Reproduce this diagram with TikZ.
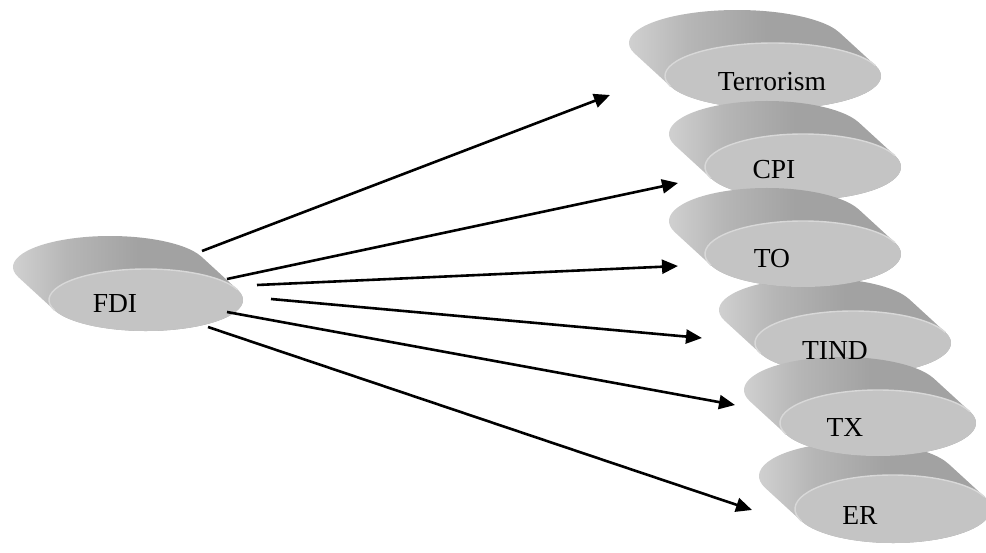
\documentclass[tikz,border=0pt]{standalone}
\usepackage{fontspec}
\setmainfont{Liberation Serif}
\usetikzlibrary{arrows.meta}

\definecolor{sidel}{HTML}{D6D6D6}
\definecolor{sidem}{HTML}{B6B6B6}
\definecolor{sided}{HTML}{A2A2A2}
\definecolor{sider}{HTML}{BABABA}
\definecolor{faceg}{HTML}{C4C4C4}
\definecolor{rimg}{HTML}{D8D8D8}

% light on the left, darker towards the right, lighter again at the tip
\pgfdeclarehorizontalshading{discside}{100bp}{color(0bp)=(sidel); color(25bp)=(sidel);
  color(38bp)=(sidem); color(52bp)=(sided); color(68bp)=(sided); color(75bp)=(sider); color(100bp)=(sider)}

\tikzset{
  arrowline/.style={line width=2.6pt, -{Triangle[length=16pt,width=14pt]}},
  disclabel/.style={font=\fontsize{27.5}{32}\selectfont, anchor=base, inner sep=0pt},
  discface/.style={fill=faceg},
  discrim/.style={draw=rimg, line width=1.4pt},
}

% extrusion vector from the front face to the back face
\def\discdx{-36}
\def\discdy{-33}

% \discshape{cx}{cy}{rx}{ry}: extruded ellipse, front face centred at (cx,cy)
\newcommand\discshape[4]{%
  \pgfmathsetmacro\disct{atan(-(#4)*(\discdx)/((#3)*(\discdy)))}%
  \shade[shading=discside] (#1,#2) ++(\disct:#3 and #4) -- ++(\discdx,\discdy)
    arc[start angle=\disct, end angle=\disct-180, x radius=#3, y radius=#4]
    -- ++(-\discdx,-\discdy)
    arc[start angle=\disct-180, end angle=\disct-360, x radius=#3, y radius=#4] -- cycle;
  \fill[discface] (#1,#2) ellipse[x radius=#3, y radius=#4];
  \draw[discrim] (#1,#2) ++(\disct-180:#3 and #4)
    arc[start angle=\disct-180, end angle=\disct, x radius=#3, y radius=#4];
}

\begin{document}
\begin{tikzpicture}[x=1pt,y=1pt,yscale=-1]
  \useasboundingbox (0,0) rectangle (986,552);

  % discs
  \discshape{146}{300}{97}{31}
  \discshape{773}{76}{108}{33}
  \discshape{803}{167}{98}{33}
  \discshape{853}{343}{98}{32}
  \discshape{893}{509}{98}{34}
  \discshape{803}{254}{98}{33}
  \discshape{878}{423}{98}{33}

  % labels
  \node[disclabel] (fdi)  at (115,312) {FDI};
  \node[disclabel] (terr) at (772,90)  {Terrorism};
  \node[disclabel] (cpi)  at (774,178) {CPI};
  \node[disclabel] (to)   at (772,267) {TO};
  \node[disclabel] (tind) at (835,359) {TIND};
  \node[disclabel] (tx)   at (845,436) {TX};
  \node[disclabel] (er)   at (860,524) {ER};

  % arrow end points
  \coordinate (fdi-o1) at (202,251);
  \coordinate (fdi-o2) at (227,279);
  \coordinate (fdi-o3) at (257,285);
  \coordinate (fdi-o4) at (271,299);
  \coordinate (fdi-o5) at (227,312);
  \coordinate (fdi-o6) at (208,327);
  \coordinate (terr-in) at (610,95);
  \coordinate (cpi-in)  at (678,183);
  \coordinate (to-in)   at (678,266);
  \coordinate (tind-in) at (702,338);
  \coordinate (tx-in)   at (735,405);
  \coordinate (er-in)   at (752,510);

  \draw[arrowline] (fdi-o1) -- (terr-in);
  \draw[arrowline] (fdi-o2) -- (cpi-in);
  \draw[arrowline] (fdi-o3) -- (to-in);
  \draw[arrowline] (fdi-o4) -- (tind-in);
  \draw[arrowline] (fdi-o5) -- (tx-in);
  \draw[arrowline] (fdi-o6) -- (er-in);
\end{tikzpicture}
\end{document}
